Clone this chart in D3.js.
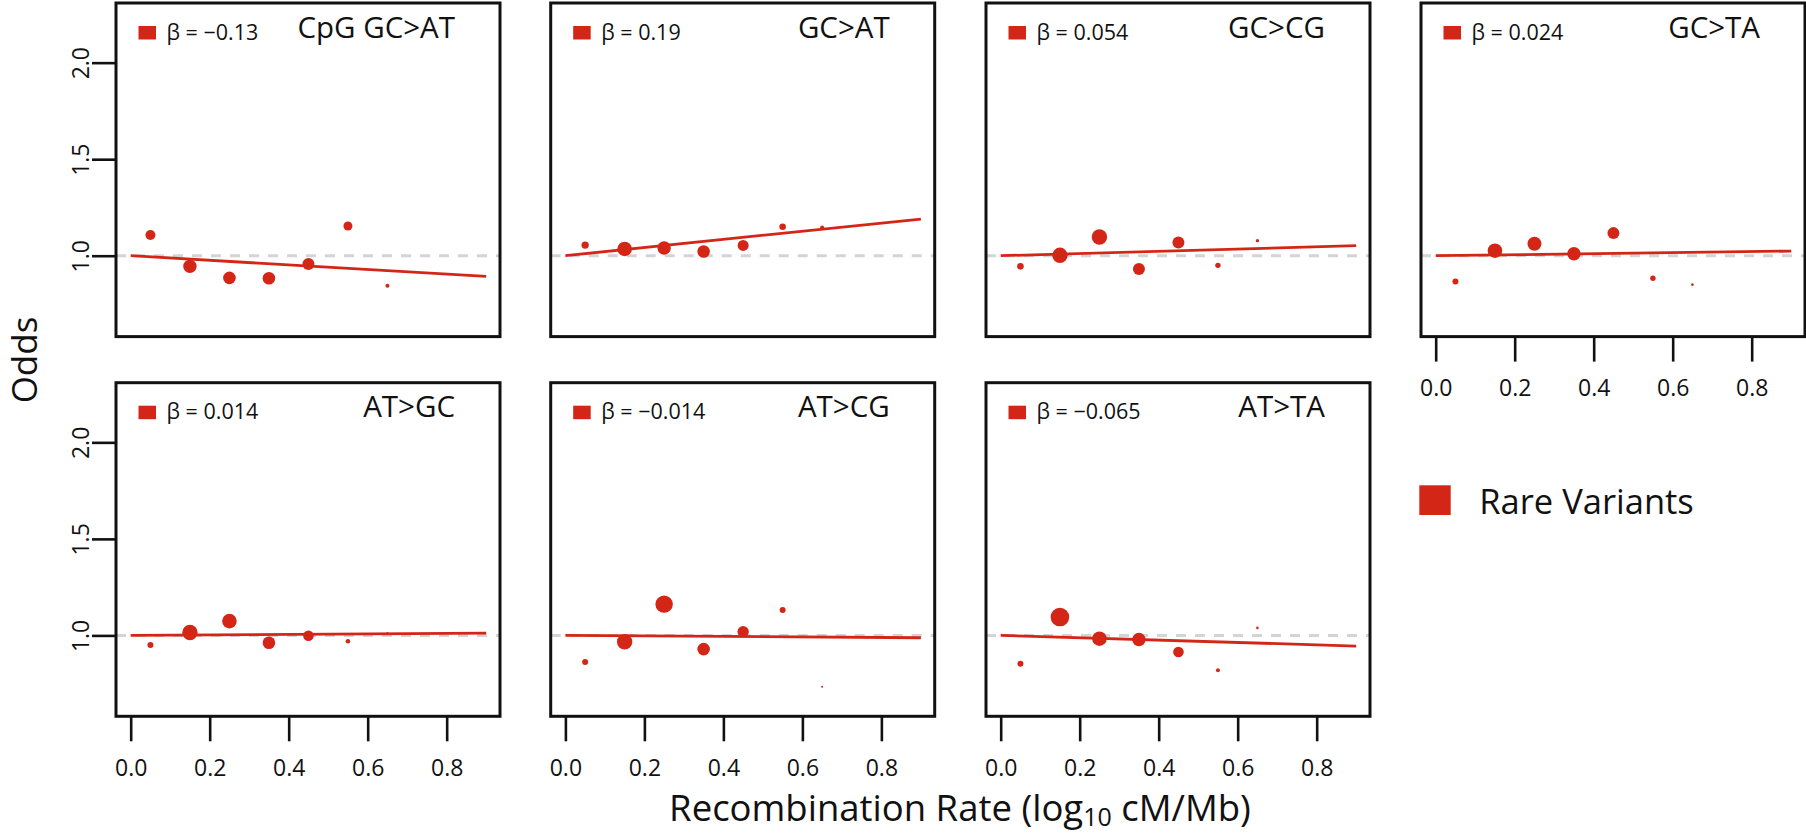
<!DOCTYPE html>
<html>
<head>
<meta charset="utf-8">
<script src="https://cdn.jsdelivr.net/npm/d3@7"></script>
<style>
  html, body { margin: 0; padding: 0; background: #fff; }
  svg { display: block; font-family: "Open Sans", "Noto Sans", sans-serif; }
</style>
</head>
<body>
<svg id="chart" width="1806" height="834"></svg>
<script>
// ---------- data ----------
const categories = ["CpG GC>AT", "GC>AT", "GC>CG", "GC>TA", "AT>GC", "AT>CG", "AT>TA"];
const betaLabels = ["\u22120.13", "0.19", "0.054", "0.024", "0.014", "\u22120.014", "\u22120.065"];
const binX = [0.05, 0.15, 0.25, 0.35, 0.45, 0.55, 0.65];

const oddsCpGGCAT = [1.107, 0.945, 0.885, 0.883, 0.957, 1.154, 0.845];
const oddsGCAT    = [1.055, 1.035, 1.040, 1.022, 1.053, 1.150, 1.146];
const oddsGCCG    = [0.945, 1.002, 1.097, 0.931, 1.069, 0.950, 1.078];
const oddsGCTA    = [0.867, 1.026, 1.062, 1.010, 1.117, 0.883, 0.850];
const oddsATGC    = [0.950, 1.015, 1.074, 0.962, 0.998, 0.970, 1.013];
const oddsATCG    = [0.862, 0.967, 1.162, 0.929, 1.019, 1.132, 0.734];
const oddsATTA    = [0.853, 1.095, 0.983, 0.979, 0.914, 0.819, 1.039];

// relative point weight (marker size) per bin
const weightCpGGCAT = [5.0, 6.7, 6.3, 6.3, 6.0, 4.5, 2.0];
const weightGCAT    = [3.7, 7.3, 6.7, 6.3, 5.5, 3.3, 2.0];
const weightGCCG    = [3.3, 7.7, 7.7, 6.0, 6.0, 2.7, 1.7];
const weightGCTA    = [3.0, 7.3, 7.0, 6.7, 6.0, 2.7, 1.3];
const weightATGC    = [3.0, 7.7, 7.3, 6.3, 5.3, 2.3, 1.0];
const weightATCG    = [3.0, 7.7, 8.7, 6.3, 5.7, 3.0, 1.0];
const weightATTA    = [3.0, 9.3, 7.3, 6.7, 5.3, 2.0, 1.3];

const fitStart = [1.0, 1.0, 1.0, 1.0, 1.0, 1.0, 1.0];
const fitEnd   = [0.893, 1.19, 1.052, 1.024, 1.012, 0.988, 0.945];
const fitX = [0, 0.9];

const xTicks = [0.0, 0.2, 0.4, 0.6, 0.8];
const yTicks = [1.0, 1.5, 2.0];
const legendLabel = "Rare Variants";

const oddsSeries = [oddsCpGGCAT, oddsGCAT, oddsGCCG, oddsGCTA, oddsATGC, oddsATCG, oddsATTA];
const weightSeries = [weightCpGGCAT, weightGCAT, weightGCCG, weightGCTA, weightATGC, weightATCG, weightATTA];

// ---------- layout ----------
const RED = "#d42617";
const svg = d3.select("#chart");
const colLeft = [116, 550.7, 986, 1421];
const rowTop = [3, 382.7];
const W = 384, H = 333.6;

const x = d3.scaleLinear().domain([-0.0372, 0.935]).range([0, W]);
const y = d3.scaleLinear().domain([0.581, 2.309]).range([H, 0]);
const r = d3.scaleLinear().domain([0, 10]).range([0, 10]);

categories.forEach((cat, i) => {
  const row = i < 4 ? 0 : 1;
  const col = i < 4 ? i : i - 4;
  const g = svg.append("g").attr("transform", `translate(${colLeft[col]},${rowTop[row]})`);

  // reference dashed line at 1.0
  g.append("line")
    .attr("x1", 0).attr("x2", W)
    .attr("y1", y(1)).attr("y2", y(1))
    .attr("stroke", "#d4d4d4").attr("stroke-width", 3)
    .attr("stroke-dasharray", "10,9");

  // fit line
  g.append("line")
    .attr("x1", x(fitX[0])).attr("y1", y(fitStart[i]))
    .attr("x2", x(fitX[1])).attr("y2", y(fitEnd[i]))
    .attr("stroke", RED).attr("stroke-width", 2.8);

  // points
  g.selectAll("circle.pt")
    .data(binX.map((bx, k) => ({ bx, o: oddsSeries[i][k], w: weightSeries[i][k] })))
    .join("circle")
    .attr("class", "pt")
    .attr("cx", d => x(d.bx))
    .attr("cy", d => y(d.o))
    .attr("r", d => r(d.w))
    .attr("fill", RED);

  // box
  g.append("rect")
    .attr("x", 0).attr("y", 0).attr("width", W).attr("height", H)
    .attr("fill", "none").attr("stroke", "#111").attr("stroke-width", 3);

  // in-panel legend
  g.append("rect")
    .attr("x", 22.5).attr("y", 23).attr("width", 17.5).attr("height", 13.5)
    .attr("fill", RED);
  g.append("text")
    .attr("x", 50.5).attr("y", 36.5)
    .attr("font-size", 21.5).attr("fill", "#111")
    .text(`\u03B2 = ${betaLabels[i]}`);

  // title
  g.append("text")
    .attr("x", W - 45).attr("y", 34.5)
    .attr("text-anchor", "end")
    .attr("font-size", 29.5).attr("fill", "#111")
    .text(cat);

  // x axis: bottom row, or top row last column
  if (row === 1 || col === 3) {
    const ax = g.append("g").attr("transform", `translate(0,${H})`)
      .call(d3.axisBottom(x).tickValues(xTicks).tickSize(25).tickFormat(d3.format(".1f")));
    ax.select(".domain").remove();
    ax.selectAll(".tick line").attr("stroke", "#111").attr("stroke-width", 2.6);
    ax.selectAll(".tick text")
      .attr("y", 59.5).attr("dy", 0)
      .attr("font-size", 23).attr("fill", "#111")
      .attr("font-family", "Open Sans, Noto Sans, sans-serif");
  }
  // y axis: first column
  if (col === 0) {
    const ay = g.append("g")
      .call(d3.axisLeft(y).tickValues(yTicks).tickSize(24).tickFormat(d3.format(".1f")));
    ay.select(".domain").remove();
    ay.selectAll(".tick line").attr("stroke", "#111").attr("stroke-width", 2.6);
    ay.selectAll(".tick text")
      .attr("x", 0).attr("dy", 0)
      .attr("transform", "translate(-27,0) rotate(-90)")
      .attr("text-anchor", "middle")
      .attr("font-size", 23).attr("fill", "#111")
      .attr("font-family", "Open Sans, Noto Sans, sans-serif");
  }
});

// global legend
svg.append("rect")
  .attr("x", 1419.3).attr("y", 485.3).attr("width", 31.4).attr("height", 29.7)
  .attr("fill", RED);
svg.append("text")
  .attr("x", 1479.3).attr("y", 514)
  .attr("font-size", 34.5).attr("fill", "#111")
  .text(legendLabel);

// axis titles
svg.append("text")
  .attr("transform", "translate(37,360) rotate(-90)")
  .attr("text-anchor", "middle")
  .attr("font-size", 35).attr("fill", "#111")
  .text("Odds");

const xt = svg.append("text")
  .attr("x", 960).attr("y", 821)
  .attr("text-anchor", "middle")
  .attr("font-size", 36.5).attr("fill", "#111");
xt.append("tspan").text("Recombination Rate (log");
xt.append("tspan").attr("font-size", 25).attr("dy", 5).text("10");
xt.append("tspan").attr("dy", -5).text(" cM/Mb)");
</script>
</body>
</html>
